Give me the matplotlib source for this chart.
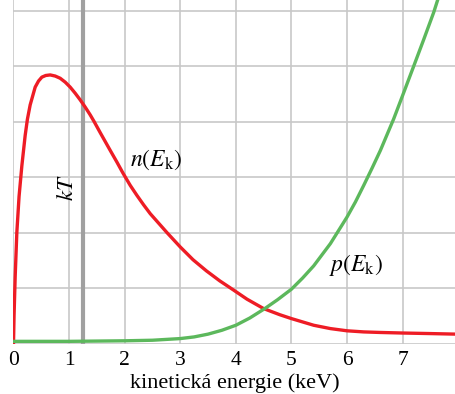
import numpy as np
import matplotlib
matplotlib.use("Agg")
import matplotlib.pyplot as plt

plt.rcParams['font.family'] = ['Liberation Serif', 'DejaVu Serif']
plt.rcParams['mathtext.fontset'] = 'stix'

# n(E_k) - rozdělení částic podle energie
n_x = [0.0, 0.01, 0.03, 0.06, 0.10, 0.15, 0.21, 0.25, 0.30, 0.39, 0.45, 0.51,
       0.58, 0.66, 0.75, 0.84, 0.93, 1.02, 1.11, 1.20, 1.29, 1.38, 1.45, 1.56,
       1.65, 1.74, 1.86, 1.97, 2.10, 2.22, 2.34, 2.46, 2.61, 2.76, 3.00, 3.23,
       3.47, 3.71, 3.95, 4.20, 4.50, 4.79, 5.00, 5.40, 5.70, 6.00, 6.30, 6.60,
       7.00, 7.50, 7.96]
n_y = [0.0, 0.5, 1.2, 2.0, 2.65, 3.2, 3.75, 4.04, 4.30, 4.62, 4.73, 4.80,
       4.83, 4.84, 4.82, 4.78, 4.71, 4.62, 4.51, 4.39, 4.26, 4.12, 4.00, 3.80,
       3.64, 3.48, 3.27, 3.07, 2.85, 2.67, 2.50, 2.34, 2.17, 2.00, 1.74, 1.51,
       1.31, 1.13, 0.97, 0.80, 0.63, 0.52, 0.45, 0.33, 0.27, 0.23, 0.21, 0.20,
       0.19, 0.18, 0.17]

# p(E_k) - pravděpodobnost průniku bariérou
p_x = [0.0, 1.0, 2.0, 2.50, 3.00, 3.25, 3.50, 3.75, 4.00, 4.25, 4.52, 4.75,
       5.00, 5.20, 5.40, 5.70, 6.00, 6.15, 6.30, 6.45, 6.60, 6.84, 7.00, 7.20,
       7.38, 7.56, 7.63]
p_y = [0.04, 0.04, 0.05, 0.06, 0.09, 0.12, 0.17, 0.24, 0.33, 0.46, 0.63, 0.79,
       0.98, 1.18, 1.40, 1.80, 2.28, 2.55, 2.85, 3.16, 3.48, 4.05, 4.47, 5.00,
       5.48, 5.97, 6.19]

kT = 1.25
x_ticks = [0, 1, 2, 3, 4, 5, 6, 7]

fig = plt.figure(figsize=(4.56, 3.94), dpi=100)
ax = fig.add_axes([0.0296, 0.128, 0.9704, 0.872])

ax.plot(n_x, n_y, color='#ee1c25', lw=2.4, solid_joinstyle='round', zorder=3)
ax.plot(p_x, p_y, color='#5cb85c', lw=2.4, solid_joinstyle='round', zorder=3)
ax.axvline(kT, color='#a0a0a0', lw=3.0, zorder=2)

ax.set_xlim(0, 7.96)
ax.set_ylim(0, 6.19)
ax.set_xticks(x_ticks)
ax.set_xticklabels([str(t) for t in x_ticks], fontsize=15.5)
ax.set_yticks(range(0, 7))
ax.set_yticklabels([])
ax.tick_params(length=0, pad=5)
ax.grid(True, color='#c8c8c8', lw=1.2, zorder=0)
ax.set_axisbelow(True)
for s in ax.spines.values():
    s.set_visible(False)

ax.set_xlabel('kinetická energie (keV)', fontsize=16, labelpad=3)

ax.text(2.09, 3.31, r'$n(E_{\mathrm{k}})$', fontsize=17, va='center', ha='left')
ax.text(5.67, 1.41, r'$p(E_{\mathrm{k}})$', fontsize=17, va='center', ha='left')
ax.text(0.98, 2.80, r'$kT$', fontsize=16.5, va='center', ha='center', rotation=90)

fig.savefig('out.png', dpi=100)
